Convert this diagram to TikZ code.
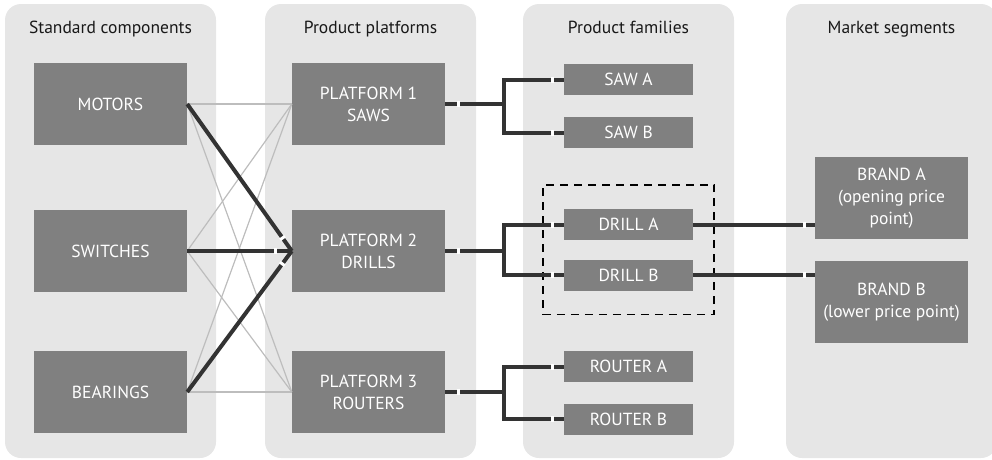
\documentclass[tikz,border=0pt]{standalone}
\usepackage{fontspec}
\setmainfont{PT Sans}
\usetikzlibrary{decorations.markings, fit}

\definecolor{panelgray}{HTML}{E6E6E6}
\definecolor{boxgray}{HTML}{808080}
\definecolor{linkdark}{HTML}{333333}
\definecolor{linklight}{HTML}{BDBDBD}

\tikzset{
  gap start/.style={postaction={decorate, decoration={markings,
      mark=at position #1 with {\fill[white] (-1.5pt,-3pt) rectangle (1.5pt,3pt);}}}},
  gap end/.style={postaction={decorate, decoration={markings,
      mark=at position -#1 with {\fill[white] (-1.5pt,-3pt) rectangle (1.5pt,3pt);}}}},
}

\begin{document}
\begin{tikzpicture}[x=1pt, y=-1pt, every node/.style={font=\fontsize{17.5}{22}\selectfont}]
    \tikzstyle{panel}=[rectangle, rounded corners=16pt, fill=panelgray, minimum width=211pt, minimum height=454pt, inner sep=0pt]
    \tikzstyle{heading}=[anchor=base, text=black!90]
    \tikzstyle{box}=[rectangle, fill=boxgray, text=white, align=center, inner sep=0pt, minimum width=153pt, minimum height=82pt]
    \tikzstyle{family}=[box, minimum width=129pt, minimum height=31pt]
    \tikzstyle{link}=[draw=linkdark, line width=4pt]
    \tikzstyle{thin link}=[draw=linklight, line width=1.2pt]
    \tikzstyle{group}=[draw=black, line width=1.5pt, dash pattern=on 8pt off 6pt, inner xsep=21pt, inner ysep=24pt]

    \useasboundingbox (0,0) rectangle (992,459);

    % Columns
    \foreach \x/\title [count=\i] in {5/Standard components, 265/Product platforms, 523/Product families, 786/Market segments} {
        \node[panel] (S-\i) at (\x+105.5,231) {};
        \node[heading] (H-\i) at (\x+105.5,33) {\title};
    }

    % Standard components
    \foreach \name/\y [count=\i] in {MOTORS/104, SWITCHES/251, BEARINGS/392}
        \node[box] (C-\i) at (110.5,\y) {\name};

    % Product platforms
    \foreach \name/\y [count=\i] in {PLATFORM 1\\SAWS/104, PLATFORM 2\\DRILLS/251, PLATFORM 3\\ROUTERS/392}
        \node[box] (P-\i) at (368.5,\y) {\name};

    % Product families
    \foreach \name/\y [count=\i] in {SAW A/79.5, SAW B/132.5, DRILL A/224.5, DRILL B/275, ROUTER A/366.5, ROUTER B/419}
        \node[family] (F-\i) at (628.5,\y) {\name};

    % Market segments
    \node[box] (B-1) at (891.5,198) {BRAND A\\(opening price\\point)};
    \node[box] (B-2) at (891.5,302) {BRAND B\\(lower price point)};

    % Shared drill group
    \node[group, fit=(F-3) (F-4)] (drills) {};

    % Connect components to platforms
    \foreach \c in {1,2,3}
        \foreach \p in {1,2,3}
            \draw[thin link] (C-\c.east) -- (P-\p.west);
    \foreach \c in {1,2,3}
        \draw[link, gap end=16pt] (C-\c.east) -- (P-2.west);

    % Connect platforms to families
    \foreach \p/\a/\b in {1/1/2, 2/3/4, 3/5/6}
        \foreach \f in {\a,\b}
            \draw[link, gap start=13pt, gap end=11pt] (P-\p.east) -- ++(59,0) |- (F-\f.west);

    % Connect drills to brands
    \draw[link, gap end=10pt] (F-3.east) -- (F-3.east -| B-1.west);
    \draw[link, gap end=10pt] (F-4.east) -- (F-4.east -| B-2.west);
\end{tikzpicture}
\end{document}
